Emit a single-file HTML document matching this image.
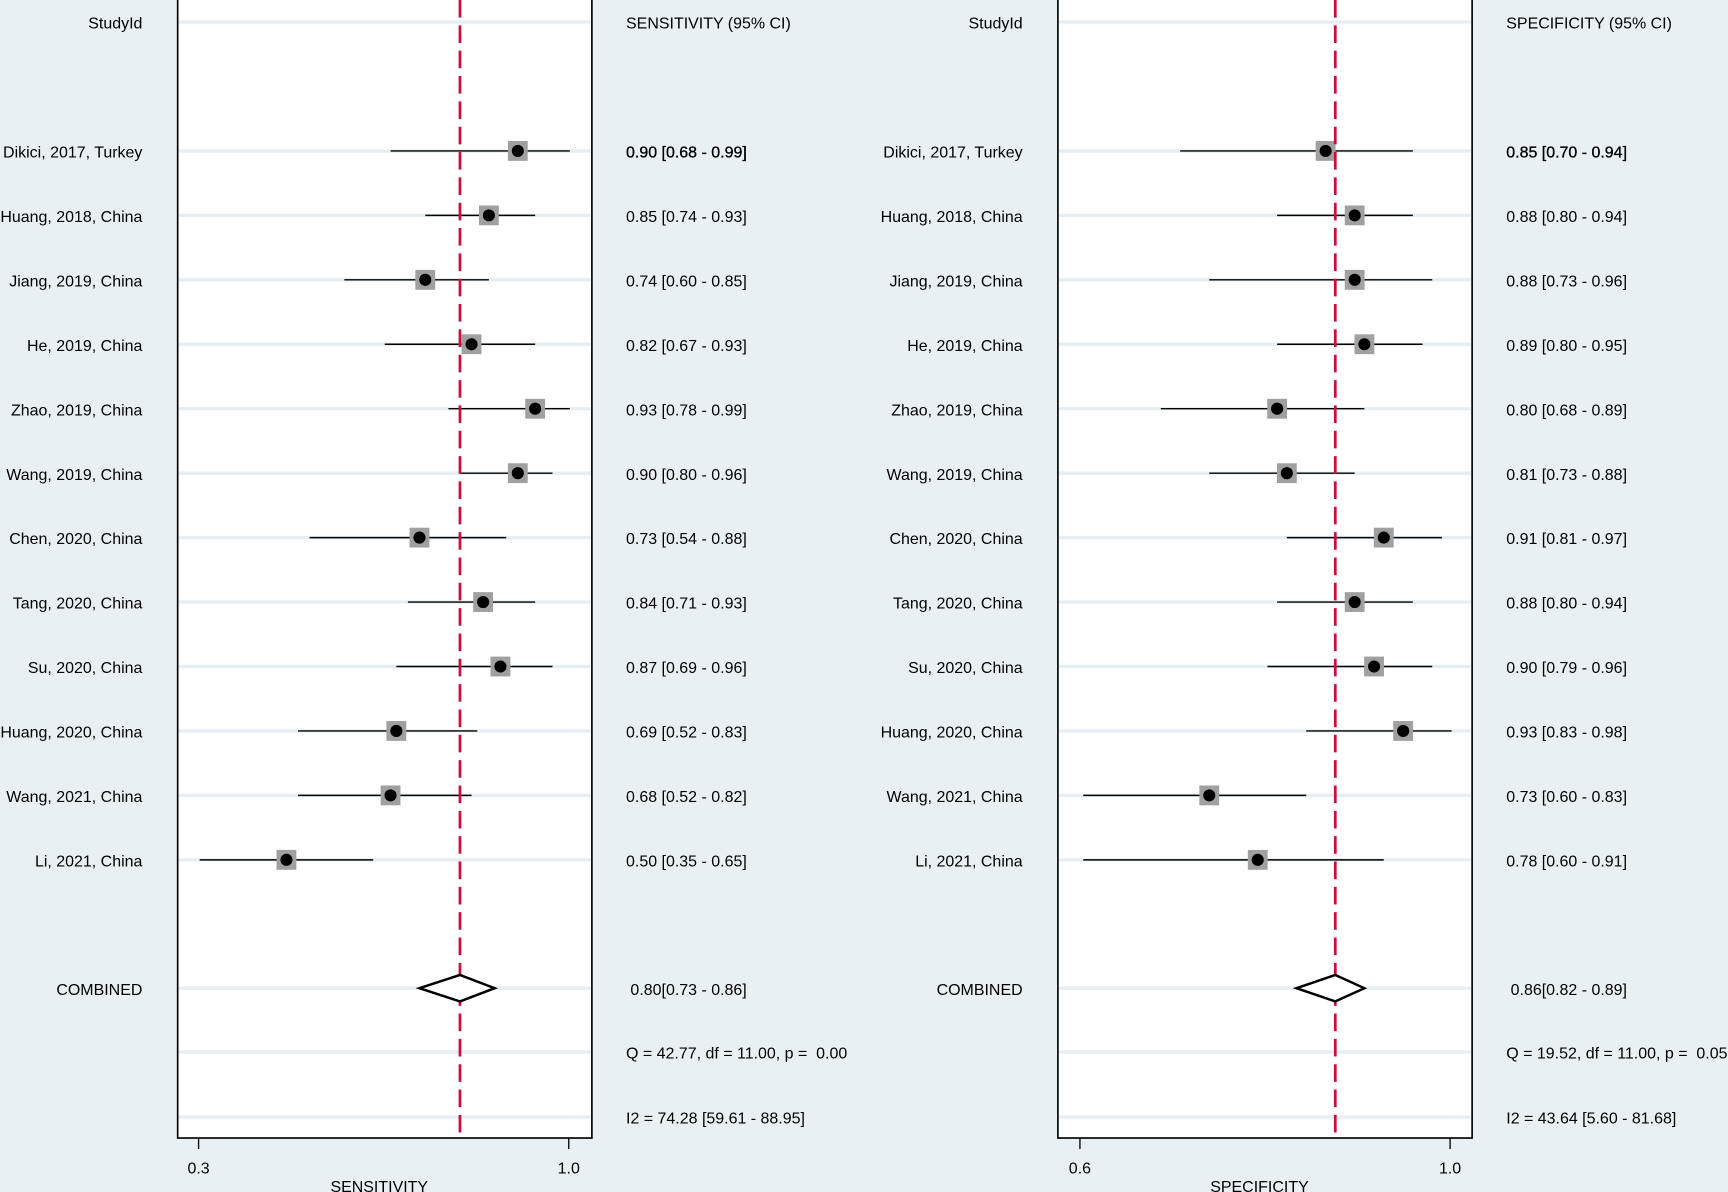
<!DOCTYPE html>
<html><head><meta charset="utf-8"><style>
html,body{margin:0;padding:0;background:#e8f0f3;}
svg{display:block}
text{font-family:"Liberation Sans",Arial,sans-serif;font-size:14.5px;fill:#000;white-space:pre}
</style></head><body>
<svg id="chart" width="1728" height="1192" viewBox="0 0 1568 1082">
<rect width="1568" height="1082" fill="#e8f0f3"/>
</svg>
<script>
const studies = ["Dikici, 2017, Turkey","Huang, 2018, China","Jiang, 2019, China","He, 2019, China","Zhao, 2019, China","Wang, 2019, China","Chen, 2020, China","Tang, 2020, China","Su, 2020, China","Huang, 2020, China","Wang, 2021, China","Li, 2021, China"];
const sensEst = [0.90,0.85,0.74,0.82,0.93,0.90,0.73,0.84,0.87,0.69,0.68,0.50];
const sensLo  = [0.68,0.74,0.60,0.67,0.78,0.80,0.54,0.71,0.69,0.52,0.52,0.35];
const sensHi  = [0.99,0.93,0.85,0.93,0.99,0.96,0.88,0.93,0.96,0.83,0.82,0.65];
const specEst = [0.85,0.88,0.88,0.89,0.80,0.81,0.91,0.88,0.90,0.93,0.73,0.78];
const specLo  = [0.70,0.80,0.73,0.80,0.68,0.73,0.81,0.80,0.79,0.83,0.60,0.60];
const specHi  = [0.94,0.94,0.96,0.95,0.89,0.88,0.97,0.94,0.96,0.98,0.83,0.91];
const sensPooled = [0.80,0.73,0.86];
const specPooled = [0.86,0.82,0.89];
const sensStats = ["Q = 42.77, df = 11.00, p =  0.00","I2 = 74.28 [59.61 - 88.95]"];
const specStats = ["Q = 19.52, df = 11.00, p =  0.05","I2 = 43.64 [5.60 - 81.68]"];
const sensTicks = [0.3,1.0];
const specTicks = [0.6,1.0];

const svg = document.getElementById('chart');
const NS = 'http://www.w3.org/2000/svg';
function mk(tag, attrs, parent){const e=document.createElementNS(NS,tag);for(const k in attrs)e.setAttribute(k,attrs[k]);(parent||svg).appendChild(e);return e;}
function rowY(i){return 137 + i*58.5;}
const fmt = v=>v.toFixed(2);

function panel(cfg){
  const {x0,x1,scale,tickScale,est,lo,hi,pooled,stats,ticks,title,header,key} = cfg;
  const g = mk('g',{});
  
  
  const box = mk('rect',{x:x0,y:-2,width:x1-x0,height:1035,fill:'#fff',stroke:'#000','stroke-width':1.5},g);
  
  
  const gy=[20]; studies.forEach((s,i)=>gy.push(rowY(i))); gy.push(897,955,1014);
  gy.forEach(y=>{const l=mk('line',{x1:x0+1,x2:x1-1,y1:y,y2:y,stroke:'#e6eef2','stroke-width':3},g);
    });
  const h1=mk('text',{x:x0-32,y:26,'text-anchor':'end'},g);h1.textContent='StudyId';
  
  const h2=mk('text',{x:x1+31,y:26},g);h2.textContent=header;
  
  studies.forEach((s,i)=>{
    const y=rowY(i);
    const lab=mk('text',{x:x0-32,y:y+6,'text-anchor':'end'},g);lab.textContent=s;
    
    const ci=mk('line',{x1:scale(lo[i]),x2:scale(hi[i]),y1:y,y2:y,stroke:'#000','stroke-width':1.3},g);
    
    const sq=mk('rect',{x:scale(est[i])-9,y:y-9,width:18,height:18,fill:'#a0a0a0'},g);
    
    const d=mk('circle',{cx:scale(est[i]),cy:y,r:5.5,fill:'#000'},g);
    
    const vt=mk('text',{x:x1+31,y:y+6},g);vt.textContent=fmt(est[i])+' ['+fmt(lo[i])+' - '+fmt(hi[i])+']';
    if(i===0) vt.setAttribute('stroke','#000'), vt.setAttribute('stroke-width','0.3');
    
  });
  const dl=mk('line',{x1:scale(pooled[0]),x2:scale(pooled[0]),y1:0,y2:1033,stroke:'#c8103e','stroke-width':2.5,'stroke-dasharray':'16,7'},g);
  
  const yc=897,px=scale(pooled[0]);
  const dm=mk('polygon',{points:`${scale(pooled[1])},${yc} ${px},${yc-12} ${scale(pooled[2])},${yc} ${px},${yc+12}`,fill:'#fff',stroke:'#000','stroke-width':2.2},g);
  
  const cl=mk('text',{x:x0-32,y:yc+6,'text-anchor':'end'},g);cl.textContent='COMBINED';
  
  const cv=mk('text',{x:x1+35,y:yc+6},g);cv.textContent=fmt(pooled[0])+'['+fmt(pooled[1])+' - '+fmt(pooled[2])+']';
  
  stats.forEach((s,i)=>{const t=mk('text',{x:x1+31,y:(i?1014:955)+6},g);t.textContent=s;
    });
  ticks.forEach(v=>{const tx=tickScale(v);
    const tl=mk('line',{x1:tx,x2:tx,y1:1033,y2:1043,stroke:'#000','stroke-width':1.2},g);
    
    const tt=mk('text',{x:tx,y:1065,'text-anchor':'middle','font-size':'13.5'},g);tt.textContent=v.toFixed(1);
    });
  const at=mk('text',{x:(x0+x1)/2-5,y:1082,'text-anchor':'middle'},g);at.textContent=title;
  
}
panel({x0:161,x1:537,scale:v=>181+(v-0.35)*525,tickScale:v=>180+(v-0.3)/0.7*336,est:sensEst,lo:sensLo,hi:sensHi,pooled:sensPooled,stats:sensStats,ticks:sensTicks,title:'SENSITIVITY',header:'SENSITIVITY (95% CI)',key:'sensitivity'});
panel({x0:960,x1:1336,scale:v=>983+(v-0.6)*880,tickScale:v=>980+(v-0.6)/0.4*336,est:specEst,lo:specLo,hi:specHi,pooled:specPooled,stats:specStats,ticks:specTicks,title:'SPECIFICITY',header:'SPECIFICITY (95% CI)',key:'specificity'});
</script>
</body></html>
